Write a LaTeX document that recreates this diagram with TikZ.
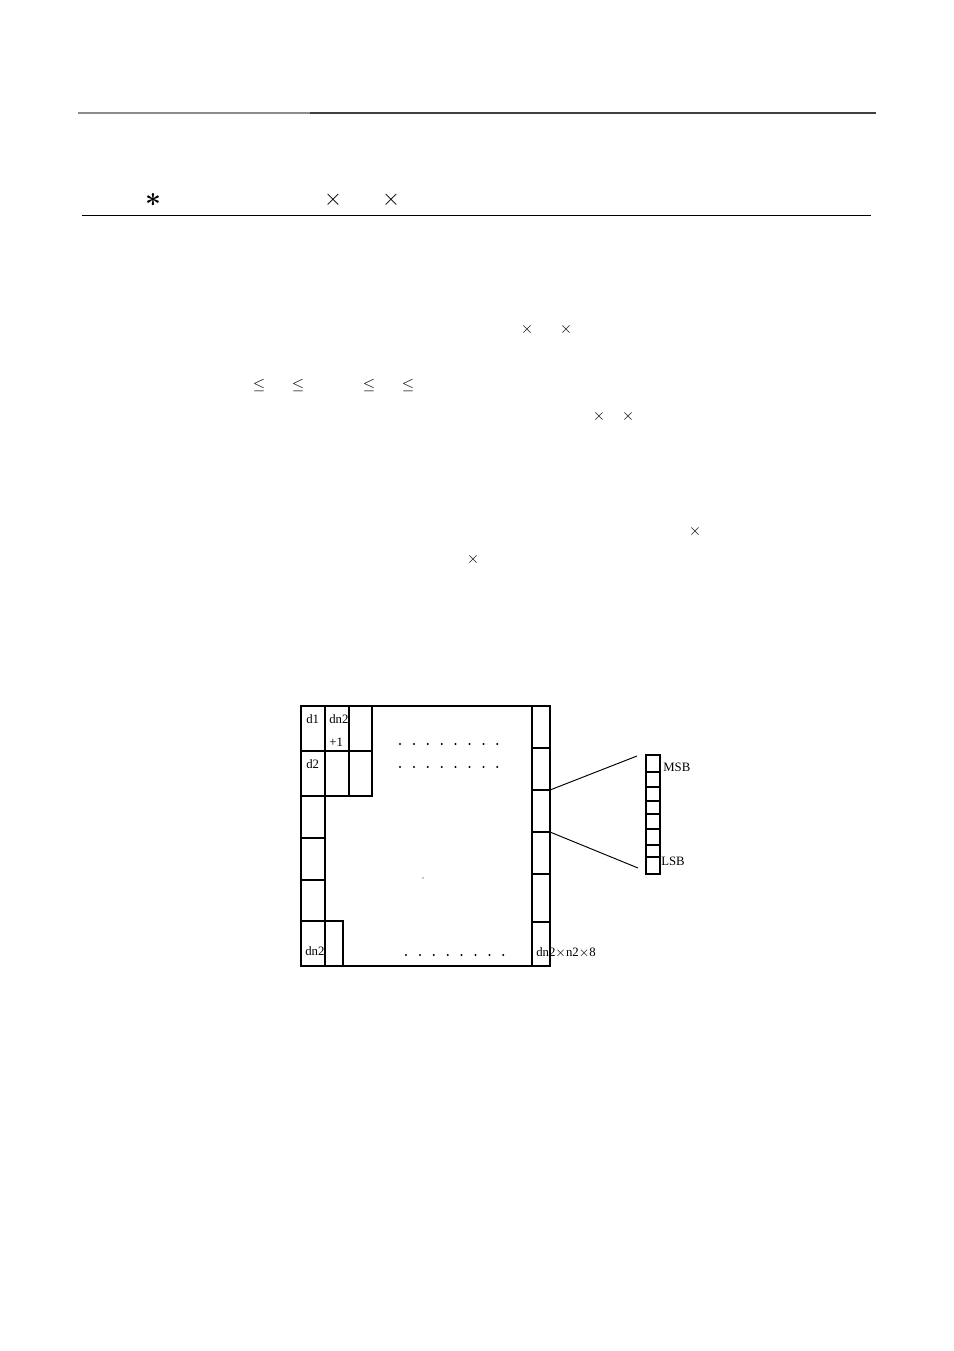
\documentclass[tikz,border=0pt]{standalone}
\usepackage{fontspec}
\setmainfont{Liberation Serif}
\usetikzlibrary{positioning}

\begin{document}
\begin{tikzpicture}[
    x=0.022cm,y=-0.022cm,
    gridLine/.style={draw,line width=0.7pt},
    cellLabel/.style={font=\fontsize{8}{9.5}\selectfont,inner sep=0pt,anchor=west},
    markSym/.style={inner sep=0pt},
    dotMark/.style={circle,fill,inner sep=0pt,minimum size=1.4pt}
  ]
    \useasboundingbox (0,0) rectangle (954,1351);

    % page rules
    \draw[black!45,line width=1.2pt] (78,113) -- (310,113);
    \draw[black!75,line width=1.2pt] (310,113) -- (876,113);
    \draw[line width=0.6pt] (82,215) -- (871,215);

    % symbols of the text lines
    \node[markSym,font=\LARGE\boldmath] (star) at (153,200) {$\ast$};
    \node[markSym,font=\Large] (timesA) at (333,200) {$\times$};
    \node[markSym,font=\Large] (timesB) at (391,200) {$\times$};
    \node[markSym] (timesC) at (527,329) {$\times$};
    \node[markSym] (timesD) at (566,329) {$\times$};
    \node[markSym] (leqA) at (259,385) {$\leq$};
    \node[markSym] (leqB) at (298,385) {$\leq$};
    \node[markSym] (leqC) at (369,385) {$\leq$};
    \node[markSym] (leqD) at (408,385) {$\leq$};
    \node[markSym] (timesE) at (599,416) {$\times$};
    \node[markSym] (timesF) at (628,416) {$\times$};
    \node[markSym] (timesG) at (695,531) {$\times$};
    \node[markSym] (timesH) at (473,559) {$\times$};

    % memory block
    \draw[gridLine] (301,706) rectangle (550,966);
    \draw[gridLine] (325,706) -- (325,966);
    \draw[gridLine] (532,706) -- (532,966);
    \draw[gridLine] (349,706) -- (349,796);
    \draw[gridLine] (372,706) -- (372,796) -- (301,796);
    \draw[gridLine] (301,751) -- (372,751);
    \foreach \y in {838,880,921}
      \draw[gridLine] (301,\y) -- (325,\y);
    \draw[gridLine] (325,921) -- (343,921) -- (343,966);
    \foreach \y in {748,790,832,874,922}
      \draw[gridLine] (532,\y) -- (550,\y);

    \node[cellLabel] (dOne) at (306,719) {d1};
    \node[cellLabel] (dnTwo) at (329,719) {dn2};
    \node[cellLabel] (plusOne) at (329,742) {+1};
    \node[cellLabel] (dTwo) at (306,764) {d2};
    \node[cellLabel] (dnLast) at (305,951) {dn2};
    \node[cellLabel] (dnTotal) at (536,953) {dn2$\times$n2$\times$8};

    \foreach \i in {0,...,7} {
      \node[dotMark] (dotA\i) at ({400+13.9*\i},744) {};
      \node[dotMark] (dotB\i) at ({400+13.9*\i},767) {};
      \node[dotMark] (dotC\i) at ({406+13.9*\i},955) {};
    }
    \node[dotMark,minimum size=0.8pt] (midDot) at (423,878) {};

    % one byte
    \draw[gridLine] (646,755) rectangle (660,874);
    \foreach \y in {772,787,801,814,829,845,857}
      \draw[gridLine] (646,\y) -- (660,\y);
    \node[cellLabel] (msb) at (663,767) {MSB};
    \node[cellLabel] (lsb) at (661,861) {LSB};

    \coordinate (cellTop) at (550,790);
    \coordinate (cellBottom) at (550,832);
    \coordinate (byteTop) at (637,756);
    \coordinate (byteBottom) at (638,868);
    \draw[line width=0.6pt] (cellTop) -- (byteTop);
    \draw[line width=0.6pt] (cellBottom) -- (byteBottom);
\end{tikzpicture}
\end{document}
